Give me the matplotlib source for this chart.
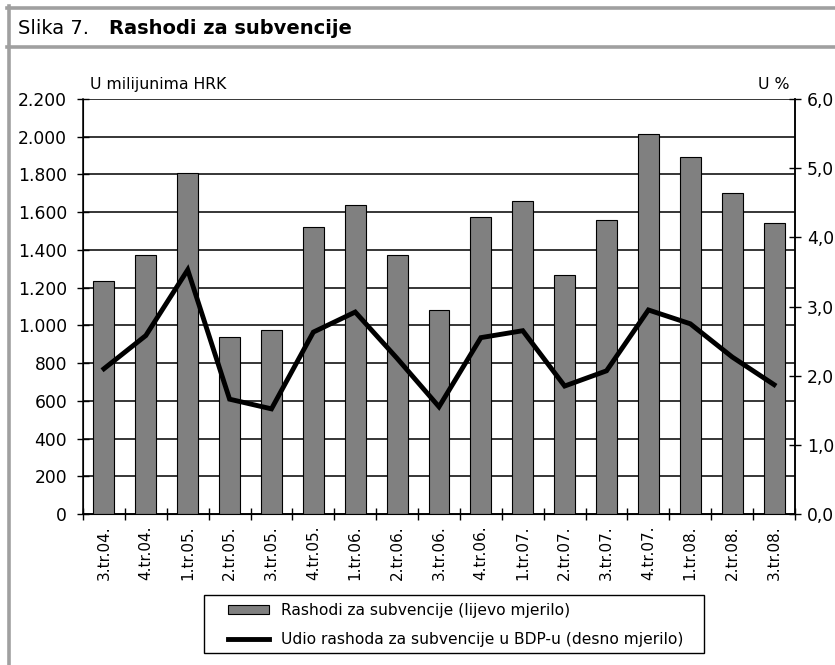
import numpy as np
import matplotlib.pyplot as plt
from matplotlib.lines import Line2D
from matplotlib.patches import Patch, Rectangle

plt.rcParams["font.family"] = ["DejaVu Sans"]

# podaci
kvartali = ["3.tr.04.", "4.tr.04.", "1.tr.05.", "2.tr.05.", "3.tr.05.", "4.tr.05.",
            "1.tr.06.", "2.tr.06.", "3.tr.06.", "4.tr.06.", "1.tr.07.", "2.tr.07.",
            "3.tr.07.", "4.tr.07.", "1.tr.08.", "2.tr.08.", "3.tr.08."]
rashodi = [1235, 1375, 1810, 940, 975, 1520, 1640, 1375, 1080, 1575, 1660, 1265,
           1560, 2015, 1890, 1700, 1545]
udio_bdp = [2.10, 2.58, 3.53, 1.66, 1.52, 2.63, 2.92, 2.25, 1.55, 2.55, 2.65, 1.85,
            2.07, 2.95, 2.75, 2.27, 1.87]
lijevi_ticks = [0, 200, 400, 600, 800, 1000, 1200, 1400, 1600, 1800, 2000, 2200]
lijevi_labels = ["0", "200", "400", "600", "800", "1.000", "1.200", "1.400", "1.600",
                 "1.800", "2.000", "2.200"]
desni_ticks = [0, 1, 2, 3, 4, 5, 6]
desni_labels = ["0,0", "1,0", "2,0", "3,0", "4,0", "5,0", "6,0"]

W, H = 835, 665
fig = plt.figure(figsize=(W / 100, H / 100), dpi=100)

# okvir i naslov
siva = "#a0a0a0"
fig.add_artist(Line2D([8.5 / W, 8.5 / W], [0, 1 - 6 / H], color=siva, lw=2.6))
fig.add_artist(Line2D([7 / W, 1], [1 - 7.5 / H, 1 - 7.5 / H], color=siva, lw=2.6))
fig.add_artist(Line2D([7 / W, 1], [1 - 46.5 / H, 1 - 46.5 / H], color=siva, lw=2.6))
fig.text(18 / W, 1 - 34 / H, "Slika 7.", fontsize=14, va="baseline")
fig.text(109 / W, 1 - 34 / H, "Rashodi za subvencije", fontsize=14,
         fontweight="bold", va="baseline")

ax = fig.add_axes([83 / W, 1 - 514 / H, (795 - 83) / W, (514 - 99) / H])
x = np.arange(len(kvartali))
ax.bar(x, rashodi, width=0.5, color="#808080", edgecolor="black", linewidth=0.8,
       zorder=3)
ax.set_xlim(-0.5, len(kvartali) - 0.5)
ax.set_ylim(0, 2200)
ax.set_yticks(lijevi_ticks)
ax.set_yticklabels(lijevi_labels, fontsize=12.3)
ax.yaxis.grid(True, color="black", linewidth=1.1, zorder=0)
ax.set_axisbelow(True)
ax.tick_params(axis="y", direction="inout", length=9, width=1, pad=7)

# x os: crtice izmedju kvartala, oznake na sredini
ax.set_xticks(np.arange(len(kvartali) + 1) - 0.5)
ax.set_xticklabels([])
ax.set_xticks(x, minor=True)
ax.set_xticklabels(kvartali, minor=True, rotation=90, fontsize=11)
ax.tick_params(axis="x", which="major", direction="inout", length=8, width=1)
ax.tick_params(axis="x", which="minor", length=0, pad=8)
ax.spines["top"].set_visible(False)
for s in ["left", "bottom", "right"]:
    ax.spines[s].set_linewidth(1.1)

ax2 = ax.twinx()
ax2.plot(x, udio_bdp, color="black", linewidth=3.5, solid_joinstyle="miter",
         zorder=4)
ax2.set_ylim(0, 6)
ax2.set_yticks(desni_ticks)
ax2.set_yticklabels(desni_labels, fontsize=12.3)
ax2.tick_params(axis="y", direction="inout", length=9, width=1, pad=4)
ax2.spines["top"].set_visible(False)
ax2.spines["right"].set_linewidth(1.1)

fig.text(90 / W, 1 - 89 / H, "U milijunima HRK", fontsize=11.3, va="baseline")
fig.text(790 / W, 1 - 89 / H, "U %", fontsize=11.3, va="baseline", ha="right")

# legenda s rucno nacrtanim okvirom
fig.add_artist(Rectangle((204 / W, 1 - 653 / H), 500 / W, 58 / H,
                         transform=fig.transFigure, facecolor="white",
                         edgecolor="black", linewidth=1))
handles = [Patch(facecolor="#808080", edgecolor="black", linewidth=0.8),
           Line2D([0], [0], color="black", linewidth=3.5)]
labels = ["Rashodi za subvencije (lijevo mjerilo)",
          "Udio rashoda za subvencije u BDP-u (desno mjerilo)"]
leg = fig.legend(handles, labels, loc="upper left",
                 bbox_to_anchor=(228 / W, 1 - 603 / H), fontsize=11.2,
                 frameon=False, borderpad=0, borderaxespad=0,
                 handlelength=2.65, handleheight=0.45,
                 labelspacing=0.9, handletextpad=0.75)

fig.savefig("out.png", dpi=100)
